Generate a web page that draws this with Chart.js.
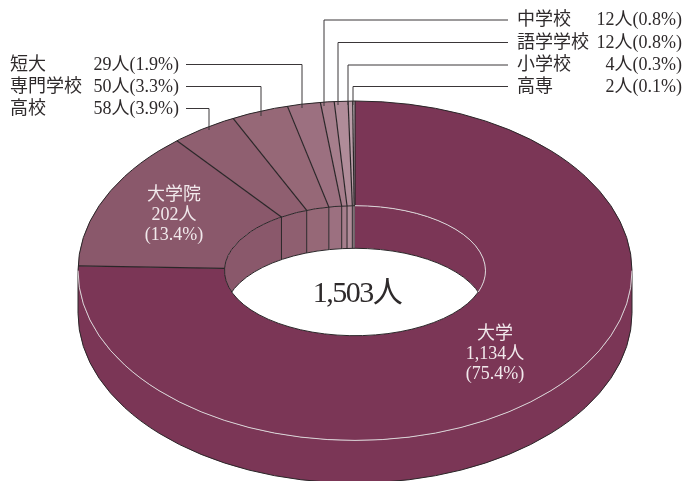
<!DOCTYPE html>
<html lang="ja">
<head>
    <meta charset="UTF-8">
    <title>1,503人</title>
    <script src="https://cdn.jsdelivr.net/npm/chart.js"></script>
    <style>
        html, body { margin: 0; padding: 0; background: #fff; overflow: hidden; }
        canvas { display: block; }
    </style>
</head>
<body>
    <canvas id="ringChart" width="687" height="481"></canvas>

    <script>
        const categories = ['大学', '大学院', '高校', '専門学校', '短大', '中学校', '語学学校', '小学校', '高専'];
        const counts = [1134, 202, 58, 50, 29, 12, 12, 4, 2];
        const countLabels = ['1,134人', '202人', '58人', '50人', '29人', '12人', '12人', '4人', '2人'];
        const shareLabels = ['(75.4%)', '(13.4%)', '(3.9%)', '(3.3%)', '(1.9%)', '(0.8%)', '(0.8%)', '(0.3%)', '(0.1%)'];
        const sliceColors = ['#7b3656', '#8a586b', '#8f5f70', '#966877', '#9c7080', '#a67e8c', '#b08c99', '#bb9ea9', '#d6c6cc'];
        const totalLabel = '1,503人';

        // ring geometry on the page
        const CX = 355, CY = 270.7, RX = 277, RY = 169.7;
        const HOLE_RX = 130.5, HOLE_RY = 65, DEPTH = 42.6;
        const DARK = '#2a2628', LIGHT = '#d9d3d6', TEXT = '#2e2a2b';
        const FONT = '"Liberation Serif", "Noto Sans CJK JP", serif';

        // leader lines: [label row y, elbow x, end y]
        const leftLeaders = { 2: [108, 209, 130], 3: [86, 261, 116], 4: [64, 302, 108] };
        const rightLeaders = { 5: [19.5, 324, 106], 6: [42, 338, 105], 7: [64.5, 348, 105], 8: [86, 353, 105] };

        function holePath(ctx, dy) {
            ctx.ellipse(CX, CY + (dy || 0), HOLE_RX, HOLE_RY, 0, 0, Math.PI * 2);
        }

        // clip that leaves out the hole in the top face
        function clipOutHole(ctx) {
            ctx.beginPath();
            ctx.rect(0, 0, 687, 481);
            holePath(ctx);
            ctx.clip('evenodd');
        }

        // angle on the hole ellipse that lies on the same screen ray as a slice edge
        function holeAngle(a) {
            return Math.atan2(RY * Math.sin(a) / HOLE_RY, RX * Math.cos(a) / HOLE_RX);
        }

        function drawOuterWall(ctx, arcs) {
            arcs.forEach(arc => {
                const a0 = Math.max(arc.startAngle, 0);
                const a1 = Math.min(arc.endAngle, Math.PI);
                if (a1 <= a0) return;
                ctx.beginPath();
                ctx.ellipse(CX, CY, RX, RY, 0, a0, a1);
                ctx.ellipse(CX, CY + DEPTH, RX, RY, 0, a1, a0, true);
                ctx.closePath();
                ctx.fillStyle = arc.options.backgroundColor;
                ctx.fill();
            });
            ctx.strokeStyle = DARK;
            ctx.lineWidth = 1;
            ctx.beginPath();
            ctx.moveTo(CX - RX, CY);
            ctx.ellipse(CX, CY + DEPTH, RX, RY, 0, Math.PI, 0, true);
            ctx.lineTo(CX + RX, CY);
            ctx.stroke();
        }

        function drawHoleWall(ctx, arcs) {
            ctx.save();
            ctx.beginPath();
            holePath(ctx);
            ctx.clip();
            arcs.forEach(arc => {
                const t0 = holeAngle(arc.startAngle);
                let t1 = holeAngle(arc.endAngle);
                if (t1 <= t0) t1 += Math.PI * 2;
                ctx.beginPath();
                ctx.ellipse(CX, CY, HOLE_RX, HOLE_RY, 0, t0, t1);
                ctx.ellipse(CX, CY + DEPTH, HOLE_RX, HOLE_RY, 0, t1, t0, true);
                ctx.closePath();
                ctx.fillStyle = arc.options.backgroundColor;
                ctx.fill();
            });
            // white floor of the hole
            ctx.beginPath();
            holePath(ctx, DEPTH);
            ctx.fillStyle = '#fff';
            ctx.fill();
            ctx.strokeStyle = DARK;
            ctx.lineWidth = 1;
            ctx.stroke();
            ctx.restore();

            // vertical edges inside the wall
            ctx.strokeStyle = DARK;
            ctx.lineWidth = 1;
            arcs.slice(1).forEach(arc => {
                const t = holeAngle(arc.startAngle);
                const x = CX + HOLE_RX * Math.cos(t);
                const y = CY + HOLE_RY * Math.sin(t);
                if (Math.sin(t) > -0.2) return;
                ctx.beginPath();
                ctx.moveTo(x, y);
                ctx.lineTo(x, y + DEPTH);
                ctx.stroke();
            });
        }

        function drawEdges(ctx, arcs) {
            ctx.save();
            clipOutHole(ctx);
            ctx.strokeStyle = DARK;
            ctx.lineWidth = 1.2;
            arcs.forEach(arc => {
                const a = arc.startAngle;
                ctx.beginPath();
                ctx.moveTo(CX, CY);
                ctx.lineTo(CX + RX * Math.cos(a), CY + RY * Math.sin(a));
                ctx.stroke();
            });
            ctx.restore();

            // outer rim: dark at the back, light at the front
            ctx.lineWidth = 1;
            ctx.strokeStyle = DARK;
            ctx.beginPath();
            ctx.ellipse(CX, CY, RX, RY, 0, Math.PI, Math.PI * 2);
            ctx.stroke();
            ctx.strokeStyle = LIGHT;
            ctx.beginPath();
            ctx.ellipse(CX, CY, RX, RY, 0, 0, Math.PI);
            ctx.stroke();

            // hole rim: light on the upper right, dark elsewhere
            const cornerT = Math.asin(DEPTH / 2 / HOLE_RY);
            ctx.strokeStyle = DARK;
            ctx.beginPath();
            ctx.ellipse(CX, CY, HOLE_RX, HOLE_RY, 0, cornerT, Math.PI * 1.5);
            ctx.stroke();
            ctx.strokeStyle = LIGHT;
            ctx.beginPath();
            ctx.ellipse(CX, CY, HOLE_RX, HOLE_RY, 0, -Math.PI / 2, cornerT);
            ctx.stroke();
        }

        function drawLeaders(ctx) {
            ctx.lineWidth = 1;
            ctx.strokeStyle = '#3a3638';
            Object.values(leftLeaders).forEach(([y, x, end]) => {
                ctx.beginPath();
                ctx.moveTo(186, y + 0.5);
                ctx.lineTo(x, y + 0.5);
                ctx.lineTo(x, end);
                ctx.stroke();
            });
            Object.values(rightLeaders).forEach(([y, x, end]) => {
                ctx.beginPath();
                ctx.moveTo(508, y + 0.5);
                ctx.lineTo(x, y + 0.5);
                ctx.lineTo(x, end);
                ctx.stroke();
            });
        }

        function drawLabels(ctx) {
            ctx.textBaseline = 'middle';
            ctx.font = '18px ' + FONT;
            ctx.fillStyle = TEXT;
            const rows = [[leftLeaders, 10, 179], [rightLeaders, 517, 682]];
            rows.forEach(([leaders, nameX, valueX]) => {
                Object.keys(leaders).forEach(i => {
                    const y = leaders[i][0] + 1;
                    ctx.textAlign = 'left';
                    ctx.fillText(categories[i], nameX, y);
                    ctx.textAlign = 'right';
                    ctx.fillText(countLabels[i] + shareLabels[i], valueX, y);
                });
            });

            ctx.textAlign = 'center';
            ctx.fillStyle = '#f1e9ec';
            [[1, 174, 195], [0, 495, 334]].forEach(([i, x, y]) => {
                ctx.fillText(categories[i], x, y);
                ctx.fillText(countLabels[i], x, y + 20);
                ctx.fillText(shareLabels[i], x, y + 40);
            });

            ctx.fillStyle = TEXT;
            ctx.font = '30px ' + FONT;
            ctx.letterSpacing = '-1.5px';
            ctx.fillText(totalLabel, 357, 294);
            ctx.letterSpacing = '0px';
        }

        const ringPlugin = {
            id: 'ring3d',
            beforeDatasetsDraw(chart) {
                const ctx = chart.ctx;
                const arcs = chart.getDatasetMeta(0).data;
                const first = arcs[0];
                drawOuterWall(ctx, arcs);
                ctx.save();
                clipOutHole(ctx);
                // the library's slices, squashed into the ellipse of the top face
                ctx.translate(CX, CY);
                ctx.scale(RX / first.outerRadius, RY / first.outerRadius);
                ctx.translate(-first.x, -first.y);
            },
            afterDatasetsDraw(chart) {
                const ctx = chart.ctx;
                const arcs = chart.getDatasetMeta(0).data;
                ctx.restore();
                drawHoleWall(ctx, arcs);
                drawEdges(ctx, arcs);
                drawLeaders(ctx);
                drawLabels(ctx);
            }
        };

        new Chart(document.getElementById('ringChart').getContext('2d'), {
            type: 'doughnut',
            data: {
                labels: categories,
                datasets: [{
                    data: counts,
                    backgroundColor: sliceColors,
                    borderWidth: 0,
                    clip: false
                }]
            },
            options: {
                responsive: false,
                animation: false,
                cutout: '35%',
                events: [],
                plugins: {
                    legend: { display: false },
                    tooltip: { enabled: false }
                }
            },
            plugins: [ringPlugin]
        });
    </script>
</body>
</html>
